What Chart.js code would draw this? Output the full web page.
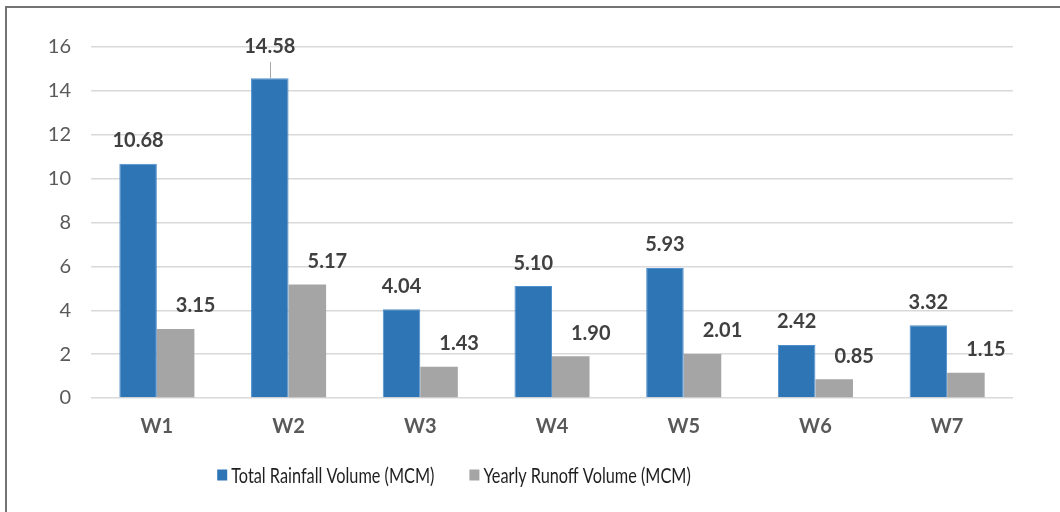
<!DOCTYPE html>
<html>
<head>
<meta charset="utf-8">
<script src="https://cdn.jsdelivr.net/npm/chart.js@4/dist/chart.umd.min.js"></script>
<style>
  html, body { margin: 0; padding: 0; background: #fff; }
  body { width: 1060px; height: 512px; overflow: hidden; position: relative; }
  #frame {
    position: absolute; left: 5px; top: 6px; right: -10px; bottom: -10px;
    border-left: 2px solid #737373; border-top: 2px solid #737373;
    pointer-events: none;
  }
  #chart { position: absolute; left: -105px; top: 0; }
</style>
</head>
<body>
<canvas id="chart" width="1165" height="512"></canvas>
<div id="frame"></div>
<script>
// Watershed volumes (million cubic metres)
const categories = ['W1', 'W2', 'W3', 'W4', 'W5', 'W6', 'W7'];
const seriesNames = ['Total Rainfall Volume (MCM)', 'Yearly Runoff Volume (MCM)'];
const totalRainfall = [10.68, 14.58, 4.04, 5.10, 5.93, 2.42, 3.32];
const yearlyRunoff = [3.15, 5.17, 1.43, 1.90, 2.01, 0.85, 1.15];
const yTicks = [0, 2, 4, 6, 8, 10, 12, 14, 16];

const FONT = 'Lato, "Open Sans", sans-serif';
const canvasShift = 105;

// Value labels above bars; runoff labels sit a little to the right,
// and the W2 rainfall label is raised with a short leader line.
const labelStyle = {
  dx: [0, 20],
  lift: 23,
  raised: { dataset: 0, index: 1, lift: 32 }
};

const valueLabels = {
  id: 'valueLabels',
  afterDatasetsDraw(chart) {
    const ctx = chart.ctx;
    ctx.save();
    ctx.font = 'bold 20px ' + FONT;
    ctx.textAlign = 'center';
    ctx.textBaseline = 'middle';
    chart.data.datasets.forEach((ds, di) => {
      const meta = chart.getDatasetMeta(di);
      meta.data.forEach((bar, i) => {
        let lift = labelStyle.lift;
        const r = labelStyle.raised;
        const isRaised = r.dataset === di && r.index === i;
        if (isRaised) lift = r.lift;
        const x = bar.x + labelStyle.dx[di];
        const y = bar.y - lift;
        if (isRaised) {
          ctx.strokeStyle = '#a6a6a6';
          ctx.lineWidth = 1;
          ctx.beginPath();
          ctx.moveTo(Math.round(bar.x) + 0.5, y + 16);
          ctx.lineTo(Math.round(bar.x) + 0.5, bar.y);
          ctx.stroke();
        }
        ctx.fillStyle = '#404040';
        ctx.fillText(Number(ds.data[i]).toFixed(2), x, y);
      });
    });
    ctx.restore();
  }
};

// Legend row under the axis, set in a condensed face
const legendStyle = {
  centerX: 454 + canvasShift,
  offsetY: 77,
  box: 10,
  boxGap: 4,
  itemGap: 35,
  squeeze: 0.74,
  font: '22px ' + FONT,
  color: '#1f1f1f'
};

const bottomLegend = {
  id: 'bottomLegend',
  afterDraw(chart) {
    const ctx = chart.ctx;
    const s = legendStyle;
    ctx.save();
    ctx.font = s.font;
    const items = chart.data.datasets.map(ds => ({
      text: ds.label,
      color: ds.backgroundColor,
      w: ctx.measureText(ds.label).width * s.squeeze
    }));
    const total = items.reduce((a, it) => a + s.box + s.boxGap + it.w, 0) + s.itemGap * (items.length - 1);
    let x = s.centerX - total / 2;
    const y = chart.chartArea.bottom + s.offsetY;
    ctx.textBaseline = 'middle';
    ctx.textAlign = 'left';
    items.forEach(it => {
      ctx.fillStyle = it.color;
      ctx.fillRect(x, y - 5.5, s.box, 11);
      x += s.box + s.boxGap;
      ctx.save();
      ctx.translate(x, y);
      ctx.scale(s.squeeze, 1);
      ctx.fillStyle = s.color;
      ctx.fillText(it.text, 0, 1);
      ctx.restore();
      x += it.w + s.itemGap;
    });
    ctx.restore();
  }
};

new Chart(document.getElementById('chart'), {
  type: 'bar',
  data: {
    labels: categories,
    datasets: [
      {
        label: seriesNames[0],
        data: totalRainfall,
        backgroundColor: '#2e75b6',
        borderColor: '#4f8fcc',
        borderWidth: 1,
        categoryPercentage: 0.57,
        barPercentage: 1.0
      },
      {
        label: seriesNames[1],
        data: yearlyRunoff,
        backgroundColor: '#a5a5a5',
        borderColor: '#a5a5a5',
        borderWidth: 0,
        categoryPercentage: 0.57,
        barPercentage: 1.0
      }
    ]
  },
  options: {
    responsive: false,
    animation: false,
    layout: { padding: { left: 0, right: 47, top: 47, bottom: 64 } },
    plugins: {
      tooltip: { enabled: false },
      legend: { display: false }
    },
    scales: {
      x: {
        grid: { display: false, drawTicks: false },
        border: { display: false },
        ticks: {
          padding: 17,
          color: '#595959',
          font: { family: FONT, size: 20, weight: 'bold' }
        },
        afterFit(scale) { scale.height = 50; }
      },
      y: {
        min: 0,
        max: 16,
        afterBuildTicks(scale) { scale.ticks = yTicks.map(v => ({ value: v })); },
        grid: { color: '#d9d9d9', lineWidth: 1.5, drawTicks: false },
        border: { display: false },
        ticks: {
          padding: 20,
          color: '#595959',
          font: { family: FONT, size: 20 }
        },
        afterFit(scale) { scale.width = 91 + canvasShift; }
      }
    }
  },
  plugins: [valueLabels, bottomLegend]
});
</script>
</body>
</html>
